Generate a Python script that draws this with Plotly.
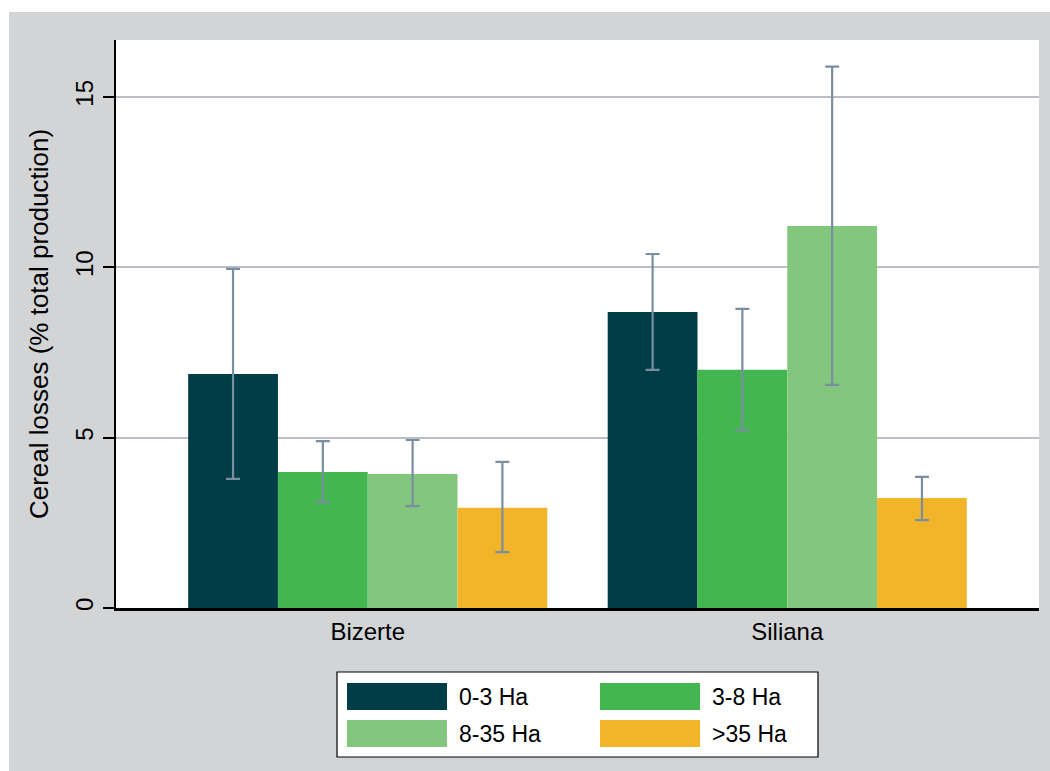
import plotly.graph_objects as go

# Cereal losses by region and farm size, with confidence intervals
regions = ["Bizerte", "Siliana"]
farm_sizes = ["0-3 Ha", "3-8 Ha", "8-35 Ha", ">35 Ha"]
colors = ["#013d47", "#43b64f", "#83c77f", "#f2b52a"]

losses = {
    "0-3 Ha": [6.87, 8.69],
    "3-8 Ha": [3.99, 6.99],
    "8-35 Ha": [3.93, 11.21],
    ">35 Ha": [2.94, 3.23],
}
ci_low = {
    "0-3 Ha": [3.79, 6.99],
    "3-8 Ha": [3.11, 5.22],
    "8-35 Ha": [2.99, 6.55],
    ">35 Ha": [1.64, 2.58],
}
ci_high = {
    "0-3 Ha": [9.95, 10.39],
    "3-8 Ha": [4.90, 8.78],
    "8-35 Ha": [4.93, 15.89],
    ">35 Ha": [4.29, 3.85],
}

x_pos = list(range(len(regions)))
FONT = "Liberation Sans, Arial, sans-serif"

fig = go.Figure()
for name, col in zip(farm_sizes, colors):
    vals = losses[name]
    fig.add_trace(go.Bar(
        x=x_pos, y=vals, name=name,
        marker=dict(color=col, line=dict(width=0)),
        error_y=dict(
            type="data", symmetric=False,
            array=[h - v for h, v in zip(ci_high[name], vals)],
            arrayminus=[v - l for l, v in zip(ci_low[name], vals)],
            color="#7a8ea0", thickness=2.2, width=7,
        ),
        showlegend=False,
    ))

# Outer grey frame and white plot region
shapes = [
    dict(type="rect", xref="paper", yref="paper", x0=-0.1159, x1=1.02, y0=-0.30, y1=1.0493,
         fillcolor="#d3d4d6", line=dict(width=0), layer="below"),
    dict(type="rect", xref="paper", yref="paper", x0=0, x1=1, y0=0, y1=1,
         fillcolor="white", line=dict(width=0), layer="below"),
]

# Legend box with wide swatches
W, H = 923.0, 568.0
def px_x(p):
    return (p - 116) / W
def px_y(p):
    return (608 - p) / H

shapes.append(dict(type="rect", xref="paper", yref="paper",
                   x0=px_x(337), x1=px_x(818), y0=px_y(757), y1=px_y(672),
                   fillcolor="white", line=dict(color="black", width=1.2)))
annotations = []
cells = [(347, 683), (600, 683), (347, 720), (600, 720)]
for (cx, cy), name, col in zip(cells, farm_sizes, colors):
    shapes.append(dict(type="rect", xref="paper", yref="paper",
                       x0=px_x(cx), x1=px_x(cx + 100), y0=px_y(cy + 27), y1=px_y(cy),
                       fillcolor=col, line=dict(width=0)))
    annotations.append(dict(xref="paper", yref="paper", x=px_x(cx + 110), y=px_y(cy + 14),
                            text=name, showarrow=False, xanchor="left", yanchor="middle",
                            font=dict(family=FONT, size=23, color="black")))

fig.update_layout(
    width=1050, height=771,
    margin=dict(l=116, r=11, t=40, b=163),
    paper_bgcolor="white", plot_bgcolor="white",
    barmode="group", bargap=0.144, bargroupgap=0,
    shapes=shapes, annotations=annotations,
    showlegend=False,
    font=dict(family=FONT, size=20, color="black"),
    xaxis=dict(
        range=[-0.6, 1.6], tickvals=x_pos, ticktext=regions,
        showgrid=False, zeroline=False, showline=True, linecolor="black", linewidth=2.5,
        ticks="", tickfont=dict(size=24), fixedrange=True,
    ),
    yaxis=dict(
        range=[0, 16.67], tickvals=[0, 5, 10, 15], tickangle=-90,
        showgrid=True, gridcolor="#b9bfc5", gridwidth=2,
        zeroline=False, showline=True, linecolor="black", linewidth=2,
        ticks="outside", ticklen=11, tickwidth=2, tickcolor="black",
        tickfont=dict(size=24),
        title=dict(text="Cereal losses (% total production)", font=dict(size=26), standoff=15),
    ),
)

fig.write_html("out.html")
